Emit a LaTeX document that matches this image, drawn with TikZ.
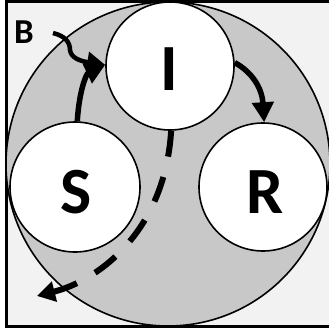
\documentclass[tikz,border=0pt]{standalone}
\usepackage{fontspec}
\setmainfont{Carlito}
\usetikzlibrary{arrows.meta}
\definecolor{bgpanel}{HTML}{F2F2F2}
\definecolor{bigdisc}{HTML}{C8C8C8}
\tikzset{
  state/.style={circle,draw=black,line width=1.6pt,fill=white,inner sep=0pt},
  lab/.style={font=\bfseries\fontsize{66}{66}\selectfont,anchor=base,inner sep=0pt},
  flow/.style={line width=5.5pt,-{Triangle[length=20pt,width=21pt]}},
}
\begin{document}
\begin{tikzpicture}[x=1pt,y=-1pt]
\useasboundingbox (0,0) rectangle (329,332);
\fill[white] (0,0) rectangle (329,332);
\draw[line width=2.5pt,fill=bgpanel] (6.5,1.5) rectangle (335,326.5);
\node[circle,draw=black,line width=1.6pt,fill=bigdisc,minimum size=324pt,inner sep=0pt] (big) at (168,164) {};
\node[state,minimum size=128pt] (I) at (170,66) {};
\node[state,minimum size=130pt] (S) at (75,187) {};
\node[state,minimum size=128pt] (R) at (263,187) {};
\node[lab] (Il) at (169,90) {I};
\node[lab] (Sl) at (76,213) {S};
\node[lab] (Rl) at (265,213) {R};
\node[font=\bfseries\fontsize{35}{35}\selectfont,anchor=base,inner sep=0pt] (B) at (24,43) {B};
\coordinate (bstart) at (53,33);
\coordinate (out) at (37,296);
% S -> I
\draw[flow] (S.88) .. controls (79,92) and (86,74) .. (I.179);
% B -> I (wavy)
\draw[line width=4.5pt,-{Triangle[length=18pt,width=20pt]}] (bstart) .. controls (65,36) and (70,42) .. (70,50) .. controls (71,58) and (80,61) .. (I.179);
% I -> R
\draw[flow] (I.3) .. controls (252,72) and (262,88) .. (R.89);
% I -> out (dashed)
\draw[line width=6pt,dash pattern=on 26pt off 21pt,-{Triangle[length=18pt,width=20pt]}] (I.-89) .. controls (165,230) and (100,280) .. (out);
\end{tikzpicture}
\end{document}
